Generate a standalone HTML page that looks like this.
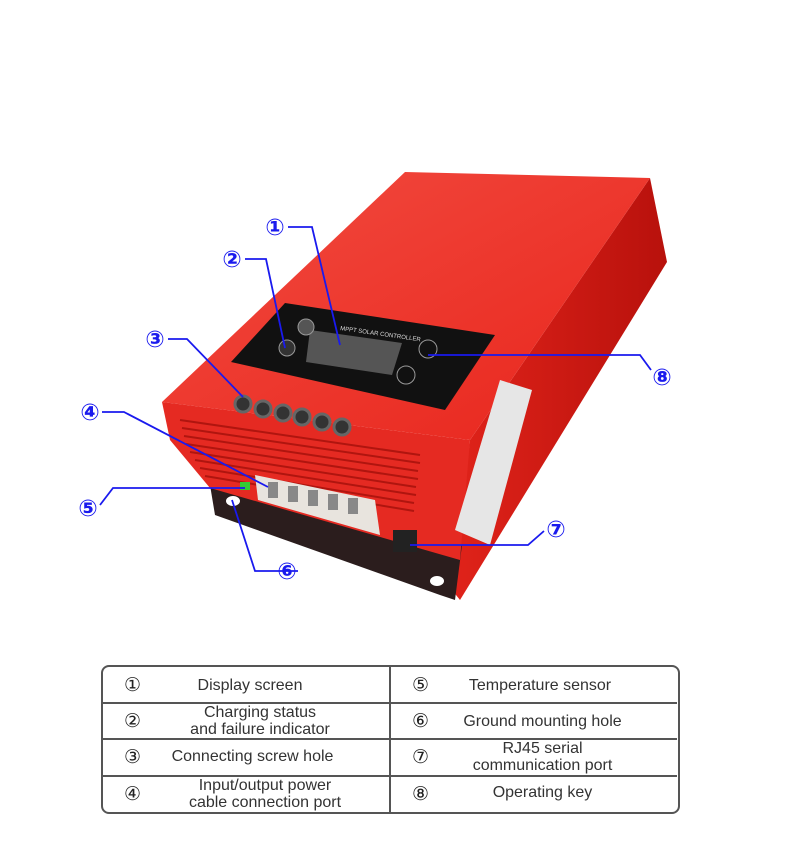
<!DOCTYPE html>
<html><head><style>
body{margin:0;background:#fff;width:790px;height:847px;overflow:hidden;font-family:"Liberation Sans","DejaVu Sans",sans-serif;}
.t{position:absolute;left:101px;top:665px;width:575px;height:145px;border:2px solid #555;border-radius:8px;}
.c{position:absolute;color:#333;font-size:16px;line-height:17px;text-align:center;}
.n{position:absolute;font-size:19px;color:#222;font-family:"DejaVu Sans",sans-serif;}
</style></head><body>
<svg width="790" height="847" style="position:absolute;left:0;top:0">
<defs><linearGradient id="g1" x1="0" y1="0" x2="1" y2="1"><stop offset="0" stop-color="#f24b40"/><stop offset="1" stop-color="#e8251c"/></linearGradient>
<linearGradient id="g2" x1="0" y1="0" x2="1" y2="0"><stop offset="0" stop-color="#e0231a"/><stop offset="1" stop-color="#b8110c"/></linearGradient></defs>
<polygon points="650,178 667,262 460,600 452,590 470,440" fill="url(#g2)"/>
<polygon points="405,172 650,178 470,440 162,402" fill="url(#g1)"/>
<polygon points="210,485 462,545 455,600 440,595 215,515" fill="#2b1d1d"/>
<polygon points="162,402 470,440 460,560 210,488 170,440" fill="#e52a22"/>
<g stroke="#b0150f" stroke-width="2">
<line x1="180" y1="420" x2="420" y2="455"/><line x1="182" y1="428" x2="420" y2="463"/><line x1="184" y1="436" x2="418" y2="471"/>
<line x1="186" y1="444" x2="418" y2="479"/><line x1="190" y1="452" x2="416" y2="487"/><line x1="195" y1="460" x2="416" y2="495"/>
<line x1="200" y1="468" x2="414" y2="503"/><line x1="205" y1="476" x2="414" y2="511"/></g>
<polygon points="255,475 375,500 380,535 258,500" fill="#e8e4de"/>
<g fill="#888"><rect x="268" y="482" width="10" height="16"/><rect x="288" y="486" width="10" height="16"/><rect x="308" y="490" width="10" height="16"/><rect x="328" y="494" width="10" height="16"/><rect x="348" y="498" width="10" height="16"/></g>
<rect x="240" y="482" width="10" height="8" fill="#3c3"/>
<rect x="393" y="530" width="24" height="22" fill="#222"/>
<ellipse cx="233" cy="501" rx="7" ry="5" fill="#fff"/><ellipse cx="437" cy="581" rx="7" ry="5" fill="#fff"/>
<polygon points="500,380 532,390 490,545 455,530" fill="#e6e6e6"/>
<polygon points="285,303 495,335 445,410 231,362" fill="#111"/>
<polygon points="310,330 402,343 392,375 306,362" fill="#555"/>
<circle cx="306" cy="327" r="8" fill="#555" stroke="#999"/><circle cx="287" cy="348" r="8" fill="#333" stroke="#999"/>
<circle cx="428" cy="349" r="9" fill="#111" stroke="#999"/><circle cx="406" cy="375" r="9" fill="#111" stroke="#999"/>
<text x="340" y="330" fill="#ddd" font-size="6" transform="rotate(8 340 330)">MPPT SOLAR CONTROLLER</text>
<g fill="#333" stroke="#666" stroke-width="3">
<circle cx="243" cy="404" r="8"/><circle cx="263" cy="409" r="8"/><circle cx="283" cy="413" r="8"/><circle cx="302" cy="417" r="8"/><circle cx="322" cy="422" r="8"/><circle cx="342" cy="427" r="8"/></g>
<g stroke="#1a1aee" stroke-width="1.8" fill="none">
<polyline points="288,227 312,227 340,345"/><polyline points="245,259 266,259 285,348"/>
<polyline points="168,339 187,339 243,397"/><polyline points="102,412 124,412 268,487"/>
<polyline points="100,505 113,488 245,488"/><polyline points="298,571 255,571 232,500"/>
<polyline points="544,531 528,545 410,545"/><polyline points="651,370 640,355 428,355"/></g>
<g fill="#1a1aee" font-size="23" font-weight="bold" font-family="DejaVu Sans,sans-serif" text-anchor="middle">
<text x="275" y="235">①</text><text x="232" y="267">②</text><text x="155" y="347">③</text><text x="90" y="420">④</text>
<text x="88" y="516">⑤</text><text x="287" y="579">⑥</text><text x="556" y="537">⑦</text><text x="662" y="385">⑧</text></g>
</svg>
<div class="t"></div>
<div style="position:absolute;left:389px;top:666px;width:2px;height:146px;background:#555"></div>
<div style="position:absolute;left:102px;top:702px;width:575px;height:2px;background:#555"></div>
<div style="position:absolute;left:102px;top:738px;width:575px;height:2px;background:#555"></div>
<div style="position:absolute;left:102px;top:775px;width:575px;height:2px;background:#555"></div>
<span class="n" style="left:124px;top:674px">①</span><span class="n" style="left:124px;top:710px">②</span>
<span class="n" style="left:124px;top:746px">③</span><span class="n" style="left:124px;top:783px">④</span>
<span class="n" style="left:412px;top:674px">⑤</span><span class="n" style="left:412px;top:710px">⑥</span>
<span class="n" style="left:412px;top:746px">⑦</span><span class="n" style="left:412px;top:783px">⑧</span>
<div class="c" style="left:150px;width:200px;top:677px">Display screen</div>
<div class="c" style="left:150px;width:220px;top:704px">Charging status<br>and failure indicator</div>
<div class="c" style="left:145px;width:215px;top:748px">Connecting screw hole</div>
<div class="c" style="left:145px;width:240px;top:777px">Input/output power<br>cable connection port</div>
<div class="c" style="left:440px;width:200px;top:677px">Temperature sensor</div>
<div class="c" style="left:440px;width:205px;top:713px">Ground mounting hole</div>
<div class="c" style="left:440px;width:205px;top:740px">RJ45 serial<br>communication port</div>
<div class="c" style="left:440px;width:205px;top:784px">Operating key</div>
</body></html>
